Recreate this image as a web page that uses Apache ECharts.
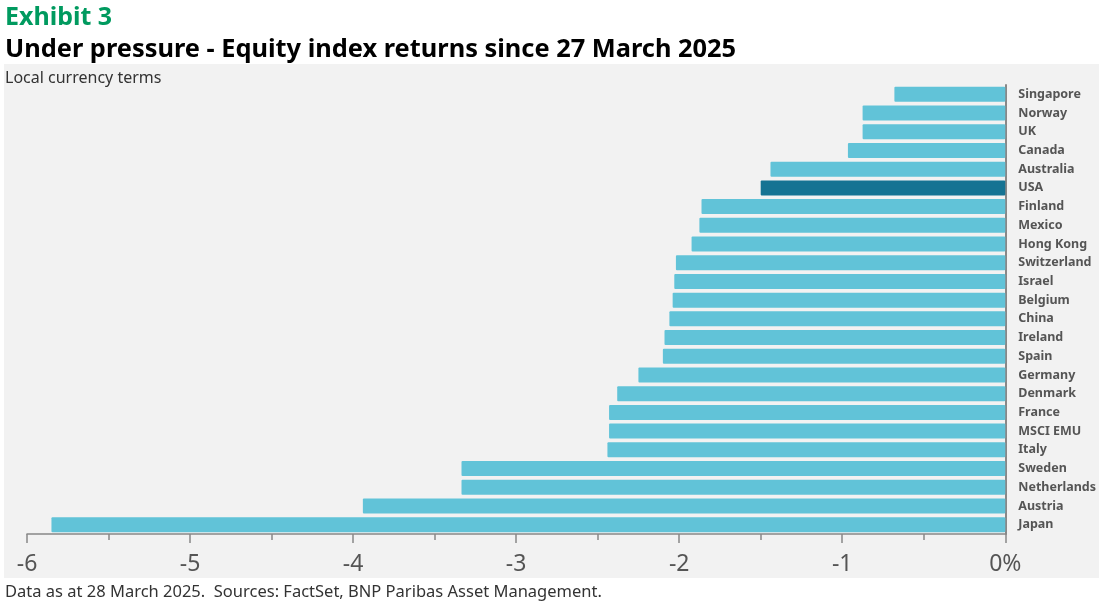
<!DOCTYPE html>
<html><head><meta charset="utf-8">
<script src="https://cdn.jsdelivr.net/npm/echarts@6/dist/echarts.min.js"></script>
<style>html,body{margin:0;padding:0;background:#fff}#c{width:1099px;height:607px}</style>
</head><body><div id="c"></div>
<script>
const categories = ["Singapore","Norway","UK","Canada","Australia","USA","Finland","Mexico","Hong Kong","Switzerland","Israel","Belgium","China","Ireland","Spain","Germany","Denmark","France","MSCI EMU","Italy","Sweden","Netherlands","Austria","Japan"];
const values = [-0.68,-0.875,-0.875,-0.965,-1.44,-1.50,-1.863,-1.876,-1.924,-2.02,-2.03,-2.04,-2.06,-2.09,-2.10,-2.25,-2.38,-2.43,-2.43,-2.44,-3.335,-3.335,-3.94,-5.85];
const highlight = "USA";
const xTicks = {min:-6, max:0, interval:1};

const chart = echarts.init(document.getElementById('c'));
const FONT = '"Noto Sans", sans-serif';
chart.setOption({
  animation:false,
  graphic:[{type:'rect',shape:{x:4,y:64,width:1095,height:514},style:{fill:'#f2f2f2'},z:-10}],
  title:[
    {text:'Exhibit 3',left:5,top:5,padding:0,textStyle:{fontFamily:FONT,fontSize:25,fontWeight:'bold',color:'#009A5F'}},
    {text:'Under pressure - Equity index returns since 27 March 2025',left:5,top:37,padding:0,textStyle:{fontFamily:FONT,fontSize:25.4,fontWeight:'bold',color:'#000'}},
    {text:'Local currency terms',left:5,top:70,padding:0,textStyle:{fontFamily:FONT,fontSize:16,fontWeight:'normal',color:'#333'}},
    {text:'Data as at 28 March 2025.  Sources: FactSet, BNP Paribas Asset Management.',left:5,top:584,padding:0,textStyle:{fontFamily:FONT,fontSize:16.5,fontWeight:'normal',color:'#333'}}
  ],
  grid:{left:27,right:87,top:85,bottom:73},
  xAxis:{type:'value',min:xTicks.min,max:xTicks.max,interval:xTicks.interval,
    axisLine:{show:true,lineStyle:{color:'#888',width:1.5}},
    axisTick:{show:true,length:9,lineStyle:{color:'#888',width:1.5}},
    minorTick:{show:true,splitNumber:2,length:6,lineStyle:{color:'#888',width:1.5}},
    splitLine:{show:false},
    axisLabel:{margin:19,fontFamily:FONT,fontSize:23,color:'#555',formatter:v=>v===0?'0%':String(v)}
  },
  yAxis:{type:'category',data:categories,inverse:true,position:'right',
    axisLine:{show:true,lineStyle:{color:'#888',width:2}},
    axisTick:{show:false},
    axisLabel:{margin:13,fontFamily:FONT,fontSize:12.5,fontWeight:'bold',color:'#555'}
  },
  series:[{type:'bar',barWidth:15,
    data:values.map((v,i)=>({value:v,itemStyle:{color:categories[i]===highlight?'#157393':'#61C3D8'}})),
    itemStyle:{borderRadius:1}
  }]
});
</script></body></html>
